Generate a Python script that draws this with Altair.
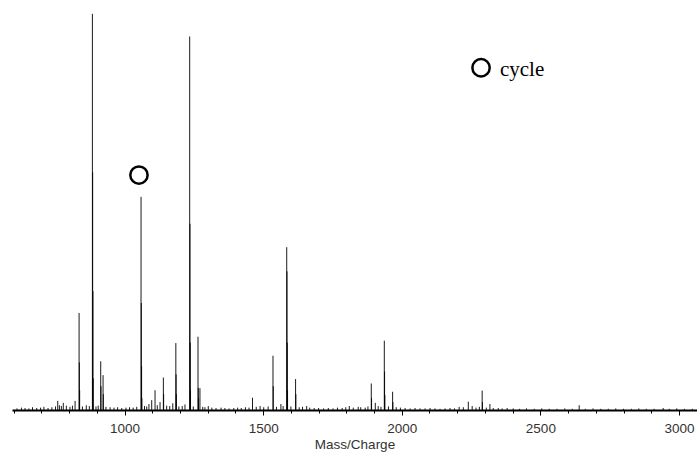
import altair as alt
import pandas as pd

# ---- data ----
peak_mz = [836, 837, 838, 884, 885, 886, 887, 914, 915, 922.5, 923.5,
           1059.5, 1060.5, 1061.5, 1062.5, 1088, 1098, 1110, 1128, 1140, 1141,
           1174, 1185, 1186, 1187, 1218, 1235, 1236, 1237, 1238,
           1265, 1266, 1267, 1272, 1302, 1461.6, 1489, 1535.5, 1536.5, 1564,
           1585, 1586, 1587, 1588, 1617, 1618, 1657, 1810.7, 1890, 1891, 1904.5,
           1937, 1938, 1939, 1967, 1968, 2207, 2240, 2254, 2290, 2291, 2318,
           2348, 2640, 2943, 759, 779, 821.5, 765, 790]
peak_int = [24.5, 12, 5, 100, 60, 30, 8, 12.3, 6, 8.8, 4,
            53.8, 27, 11, 3, 1.5, 2.5, 5, 2, 8.2, 4,
            1.7, 16.9, 9, 4, 1.4, 94.3, 47, 17, 5,
            18.5, 5.6, 3, 5.5, 1, 3.1, 1, 13.7, 6, 1.5,
            41.1, 35, 17, 5, 7.8, 4, 1, 1, 6.7, 3, 1.8,
            17.5, 9.7, 3.8, 4.6, 2, 0.8, 2.1, 1, 4.9, 2, 1.5,
            0.5, 1.2, 0.5, 2.3, 1.8, 2.3, 1.2, 1.1]

grass_mz = [612, 628, 641, 655, 668, 683, 697, 709, 724, 738, 751, 772, 803,
            812, 848, 862, 873, 897, 905, 933, 948, 962, 975, 990, 1005, 1018,
            1031, 1044, 1072, 1080, 1118, 1152, 1163, 1196, 1208, 1248, 1282,
            1290, 1315, 1330, 1348, 1362, 1377, 1394, 1408, 1421, 1436, 1449,
            1475, 1502, 1518, 1548, 1572, 1600, 1630, 1642, 1668, 1684, 1700,
            1718, 1735, 1752, 1768, 1785, 1798, 1825, 1843, 1852, 1868, 1878,
            1915, 1925, 1952, 1980, 1995, 2012, 2030, 2048, 2066, 2084, 2102,
            2120, 2138, 2156, 2174, 2190, 2222, 2268, 2280, 2305, 2330, 2362,
            2380, 2402, 2425, 2450, 2478, 2505, 2532, 2560, 2588, 2615, 2662,
            2690, 2718, 2745, 2772, 2800, 2828, 2855, 2882, 2910, 2965, 2992,
            3020, 3048]
grass_int = [0.4, 0.6, 0.5, 0.4, 0.7, 0.5, 0.6, 0.8, 0.5, 0.7, 0.9, 1.0, 0.8,
             1.1, 0.9, 1.2, 1.0, 0.9, 1.1, 0.8, 0.7, 0.6, 0.7, 0.5, 0.6, 0.7,
             0.6, 0.8, 1.0, 0.9, 1.2, 1.1, 1.0, 0.9, 1.0, 0.9, 0.8, 0.7, 0.6,
             0.5, 0.6, 0.5, 0.4, 0.5, 0.6, 0.5, 0.7, 0.6, 0.8, 0.7, 0.9, 0.8,
             1.0, 0.9, 0.7, 0.8, 0.6, 0.5, 0.5, 0.4, 0.5, 0.4, 0.6, 0.5, 0.7,
             0.6, 0.8, 0.7, 0.6, 0.9, 1.0, 0.8, 0.9, 0.7, 0.6, 0.5, 0.4, 0.5,
             0.4, 0.4, 0.5, 0.4, 0.3, 0.4, 0.5, 0.4, 0.7, 0.6, 0.8, 0.6, 0.5,
             0.4, 0.5, 0.4, 0.3, 0.4, 0.3, 0.4, 0.3, 0.3, 0.4, 0.3, 0.3, 0.4,
             0.3, 0.3, 0.4, 0.3, 0.3, 0.4, 0.3, 0.3, 0.3, 0.4, 0.3, 0.3]

circle_mz = [1052, 2286]
circle_int = [59.3, 86.4]
legend_label = ["cycle"]
legend_mz = [2354]
legend_int = [84.4]

major_ticks = [1000, 1500, 2000, 2500, 3000]
minor_ticks = [600, 700, 800, 900, 1100, 1200, 1300, 1400, 1600, 1700, 1800,
               1900, 2100, 2200, 2300, 2400, 2600, 2700, 2800, 2900]

# ---- tables ----
peaks = pd.DataFrame({"mz": peak_mz, "inten": peak_int})
peaks["base"] = 0.0
grass = pd.DataFrame({"mz": grass_mz, "inten": grass_int})
grass["base"] = 0.0
circles = pd.DataFrame({"mz": circle_mz, "inten": circle_int})
labels = pd.DataFrame({"mz": legend_mz, "inten": legend_int, "txt": legend_label})

xscale = alt.Scale(domain=[594, 3065], nice=False, zero=False)
yscale = alt.Scale(domain=[0, 103.5], nice=False, zero=True)

major_axis = alt.Axis(
    title="Mass/Charge",
    orient="bottom",
    values=major_ticks,
    labelOverlap=False,
    labelFont="Liberation Sans",
    labelFontSize=13.5,
    labelColor="#333333",
    labelBaseline="alphabetic",
    labelPadding=17,
    tickColor="black",
    tickWidth=1,
    tickSize=5,
    domainColor="black",
    domainWidth=2,
    grid=False,
    titleFont="Liberation Sans",
    titleFontSize=13.5,
    titleFontWeight="normal",
    titleColor="#333333",
    titleBaseline="alphabetic",
    titleY=38,
    format="d",
)

minor_axis = alt.Axis(
    title=None,
    orient="bottom",
    values=minor_ticks,
    labels=False,
    domain=False,
    grid=False,
    tickColor="black",
    tickWidth=1,
    tickSize=3,
)

rules = alt.Chart(peaks).mark_rule(color="black", strokeWidth=0.9).encode(
    x=alt.X("mz:Q", scale=xscale, axis=major_axis),
    y=alt.Y("inten:Q", scale=yscale, axis=None),
    y2="base:Q",
)

grass_rules = alt.Chart(grass).mark_rule(color="black", strokeWidth=0.9).encode(
    x=alt.X("mz:Q", scale=xscale, axis=minor_axis),
    y=alt.Y("inten:Q", scale=yscale, axis=None),
    y2="base:Q",
)

circ = alt.Chart(circles).mark_point(
    shape="circle", filled=False, size=300, strokeWidth=2.5, color="black", opacity=1
).encode(
    x=alt.X("mz:Q", scale=xscale, axis=None),
    y=alt.Y("inten:Q", scale=yscale, axis=None),
)

txt = alt.Chart(labels).mark_text(
    font="Liberation Serif", fontSize=21, align="left", baseline="alphabetic", color="black"
).encode(
    x=alt.X("mz:Q", scale=xscale, axis=None),
    y=alt.Y("inten:Q", scale=yscale, axis=None),
    text="txt:N",
)

chart = alt.layer(rules, grass_rules, circ, txt).resolve_axis(x="independent").properties(
    width=685,
    height=410,
    autosize=alt.AutoSizeParams(type="none"),
    padding={"left": 12, "top": 0, "right": 0, "bottom": 42},
    background="white",
).configure_view(stroke=None)

chart.save("out.html", embed_options={"renderer": "svg", "actions": False})
